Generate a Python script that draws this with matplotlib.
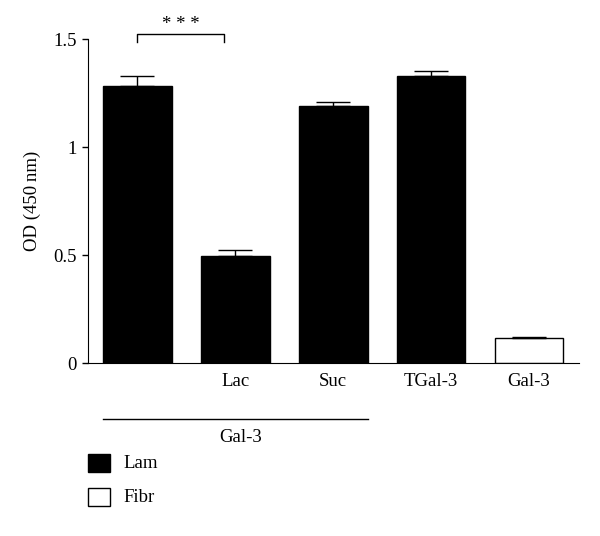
import matplotlib
matplotlib.use('Agg')
import matplotlib.pyplot as plt
from matplotlib.patches import Rectangle

plt.rcParams['font.family'] = ['Liberation Serif', 'DejaVu Serif']

# data
labels = ['', 'Lac', 'Suc', 'TGal-3', 'Gal-3']
values = [1.282, 0.497, 1.19, 1.33, 0.117]
errors = [0.045, 0.028, 0.018, 0.024, 0.002]
colors = ['black', 'black', 'black', 'black', 'white']
legend_names = ['Lam', 'Fibr']
legend_colors = ['black', 'white']

fs = 13.5

fig = plt.figure(figsize=(6, 5.36), dpi=100)
ax = fig.add_axes([88 / 600, 1 - 363 / 536, (579 - 88) / 600, (363 - 39) / 536])

x = list(range(len(values)))
ax.bar(x, values, width=0.7, color=colors, edgecolor='black', linewidth=1.0)
ax.errorbar(x, values, yerr=[[0] * len(errors), errors], fmt='none',
            ecolor='black', elinewidth=1.0, capsize=12.5, capthick=1.0)

ax.set_xlim(-0.505, 4.51)
ax.set_ylim(0, 1.5)
ax.set_yticks([0, 0.5, 1, 1.5])
ax.set_yticklabels(['0', '0.5', '1', '1.5'], fontsize=fs)
ax.set_xticks(x)
ax.set_xticklabels(labels, fontsize=fs)
ax.tick_params(axis='x', length=0, pad=7)
ax.tick_params(axis='y', length=4.5, width=1, pad=3.5)
ax.spines['top'].set_visible(False)
ax.spines['right'].set_visible(False)
ax.set_ylabel('OD (450\u2009nm)', fontsize=fs, labelpad=9)

# significance bracket
ax.plot([0, 0, 0.88, 0.88], [1.487, 1.525, 1.525, 1.487], color='black',
        linewidth=1.0, clip_on=False)
ax.text(0.44, 1.528, '* * *', ha='center', va='bottom', fontsize=fs, clip_on=False)

# group line under first three bars
ax.plot([-0.35, 2.35], [-0.26, -0.26], color='black', linewidth=1.0, clip_on=False)
ax.text(1.05, -0.345, 'Gal-3', ha='center', va='center', fontsize=fs)

# legend boxes
for i, (name, c) in enumerate(zip(legend_names, legend_colors)):
    y0 = 1 - (472 + i * 34) / 536
    fig.patches.append(Rectangle((88 / 600, y0), 22 / 600, 18 / 536,
                                 transform=fig.transFigure, facecolor=c,
                                 edgecolor='black', linewidth=1.0))
    fig.text(123 / 600, y0 + 9 / 536, name, ha='left', va='center', fontsize=fs)

fig.savefig('out.png', dpi=100)
